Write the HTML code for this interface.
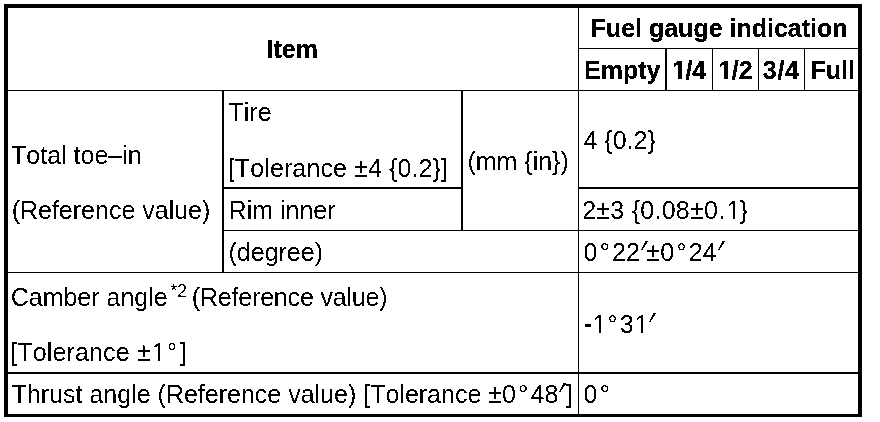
<!DOCTYPE html>
<html><head><meta charset="utf-8"><style>
html,body{margin:0;padding:0;background:#fff;}
body{width:880px;height:422px;position:relative;overflow:hidden;font-kerning:none;font-feature-settings:"kern" 0;font-family:"Liberation Sans",Arial,Helvetica,sans-serif;color:#000;}
.l{position:absolute;background:#000;}
.t{position:absolute;filter:url(#th);white-space:nowrap;font-size:25px;line-height:25px;}
.b{font-weight:bold;font-size:25px;filter:url(#thb);}
.dg{margin:0 2.3px;}
.pr{display:inline-block;transform:translate(-0.6px,-0.3px) skewX(-20deg) scale(1.25,1.4);transform-origin:0 10.7px;margin-right:2px;}
sup{font-size:17.5px;vertical-align:0;position:relative;top:-9.4px;margin:0 4.7px 0 2.8px;}
.cr{letter-spacing:-0.18px;}
.hy{display:inline-block;transform:translate(1px,-1px) scaleY(1.5);transform-origin:50% 14.5px;}
.o{display:inline-block;position:relative;left:1.2px;clip-path:polygon(0 0,100% 0,100% 19px,8.45px 19px,8.45px 100%,6.35px 100%,6.35px 19px,0 19px);}
.ob{display:inline-block;position:relative;left:0.8px;clip-path:polygon(0 0,100% 0,100% 18.3px,9.4px 18.3px,9.4px 100%,5.7px 100%,5.7px 18.3px,0 18.3px);}
</style></head><body>

<svg width="0" height="0" style="position:absolute"><filter id="th" color-interpolation-filters="sRGB"><feComponentTransfer><feFuncA type="discrete" tableValues="0 1"/></feComponentTransfer></filter><filter id="thb" color-interpolation-filters="sRGB"><feComponentTransfer><feFuncA type="discrete" tableValues="0 1 1"/></feComponentTransfer></filter></svg>
<div class="l" style="left:4px;top:4px;width:858px;height:4px"></div>
<div class="l" style="left:4px;top:4px;width:4px;height:413px"></div>
<div class="l" style="left:858px;top:4px;width:4px;height:413px"></div>
<div class="l" style="left:4px;top:414px;width:858px;height:3px"></div>
<div class="l" style="left:578px;top:48px;width:280px;height:1px"></div>
<div class="l" style="left:8px;top:90px;width:850px;height:1px"></div>
<div class="l" style="left:222px;top:187px;width:240px;height:2px"></div>
<div class="l" style="left:578px;top:187px;width:280px;height:2px"></div>
<div class="l" style="left:222px;top:230px;width:636px;height:1px"></div>
<div class="l" style="left:8px;top:272px;width:850px;height:1px"></div>
<div class="l" style="left:8px;top:372px;width:850px;height:2px"></div>
<div class="l" style="left:578px;top:8px;width:1px;height:406px"></div>
<div class="l" style="left:222px;top:90px;width:2px;height:182px"></div>
<div class="l" style="left:461px;top:90px;width:2px;height:140px"></div>
<div class="l" style="left:665px;top:48px;width:2px;height:42px"></div>
<div class="l" style="left:712px;top:48px;width:1px;height:42px"></div>
<div class="l" style="left:758px;top:48px;width:1px;height:42px"></div>
<div class="l" style="left:804px;top:48px;width:1px;height:42px"></div>
<div id="item" class="t b" style="left:266.50px;top:37.00px;">Item</div>
<div id="fuel" class="t b" style="left:590.60px;top:16.00px;">Fuel gauge indication</div>
<div id="empty" class="t b" style="left:584.00px;top:58.00px;">Empty</div>
<div id="q1" class="t b" style="left:671.50px;top:58.00px;"><span class="ob">1</span>/4</div>
<div id="q2" class="t b" style="left:717.80px;top:58.00px;"><span class="ob">1</span>/2</div>
<div id="q3" class="t b" style="left:762.80px;top:58.00px;letter-spacing:0.700px;">3/4</div>
<div id="full" class="t b" style="left:810.40px;top:58.00px;">Full</div>
<div id="toe" class="t" style="left:11.10px;top:143.00px;">Total toe–in</div>
<div id="ref1" class="t" style="left:11.65px;top:198.00px;">(Reference value)</div>
<div id="tire" class="t" style="left:228.50px;top:100.00px;">Tire</div>
<div id="tol4" class="t" style="left:227.80px;top:156.00px;letter-spacing:0.111px;">[Tolerance ±4 {0.2}]</div>
<div id="mm" class="t" style="left:467.40px;top:149.00px;">(mm {in})</div>
<div id="v4" class="t" style="left:583.50px;top:128.00px;">4 {0.2}</div>
<div id="rim" class="t" style="left:228.60px;top:198.00px;">Rim inner</div>
<div id="v23" class="t" style="left:582.20px;top:198.00px;letter-spacing:0.262px;">2±3 {0.08±0.<span class="o">1</span>}</div>
<div id="deg" class="t" style="left:228.50px;top:240.00px;">(degree)</div>
<div id="v022" class="t" style="left:583.60px;top:240.00px;">0<span class="dg">°</span>22<span class="pr">′</span>±0<span class="dg">°</span>24<span class="pr">′</span></div>
<div id="camber" class="t" style="left:10.70px;top:285.00px;">Camber angle<sup>*2</sup><span class="cr">(Reference value)</span></div>
<div id="tol1" class="t" style="left:10.35px;top:340.00px;letter-spacing:0.130px;">[Tolerance ±<span class="o">1</span><span class="dg">°</span>]</div>
<div id="v131" class="t" style="left:582.95px;top:312.00px;"><span class="hy">-</span><span class="o">1</span><span class="dg">°</span>3<span class="o">1</span><span class="pr">′</span></div>
<div id="thrust" class="t" style="left:11.65px;top:382.00px;">Thrust angle (Reference value) [Tolerance ±0<span class="dg">°</span>48<span class="pr" style="margin-right:2.6px">′</span>]</div>
<div id="v0" class="t" style="left:583.50px;top:382.00px;">0<span class="dg">°</span></div>
</body></html>
